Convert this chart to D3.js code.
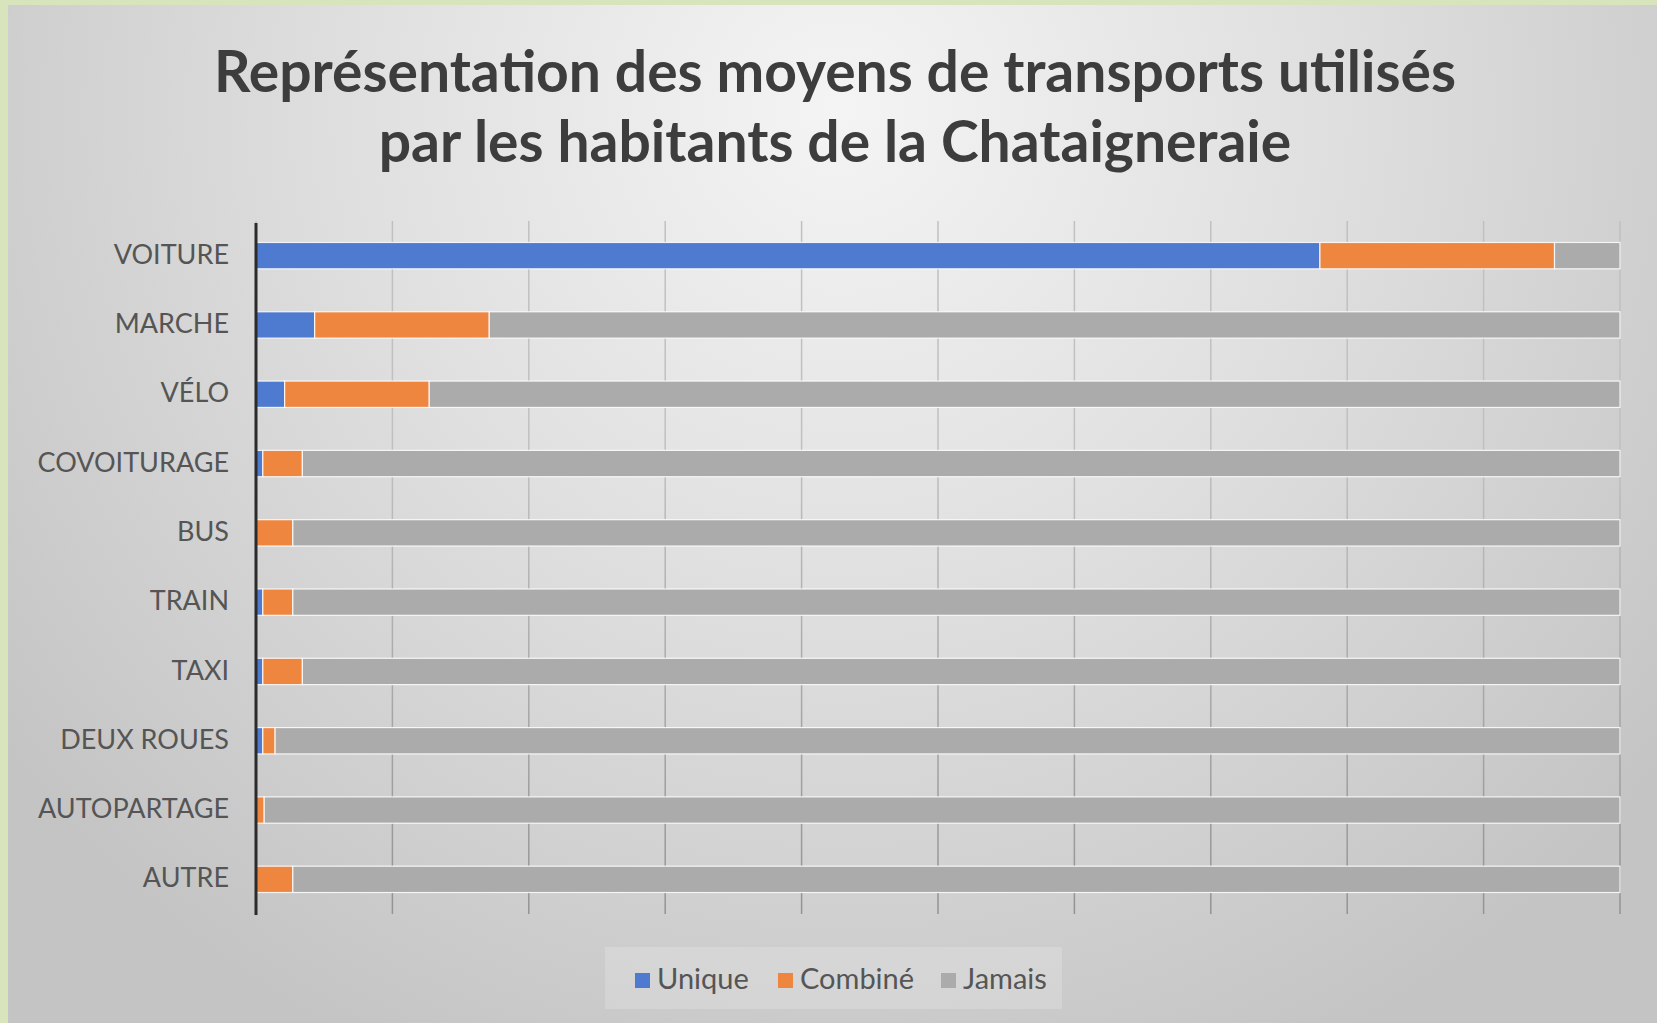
<!DOCTYPE html>
<html>
<head>
<meta charset="utf-8">
<script src="https://cdn.jsdelivr.net/npm/d3@7"></script>
<style>
  html, body { margin: 0; padding: 0; background: #d8e4bc; }
  svg { display: block; }
  .title { font-family: Lato, "Open Sans", sans-serif; font-weight: bold; fill: #3d3d3d; }
  .y-axis text { font-family: Lato, "Open Sans", sans-serif; fill: #555555; }
  .legend text { font-family: Lato, "Open Sans", sans-serif; fill: #555555; }
</style>
</head>
<body>
<svg id="chart" width="1657" height="1023"></svg>
<script>
// Chart data (percent of respondents)
var categories = ['VOITURE', 'MARCHE', 'VÉLO', 'COVOITURAGE', 'BUS', 'TRAIN', 'TAXI', 'DEUX ROUES', 'AUTOPARTAGE', 'AUTRE'];
var unique  = [78.0, 4.3, 2.1, 0.5, 0.0, 0.5, 0.5, 0.5, 0.0, 0.0];
var combine = [17.2, 12.8, 10.6, 2.9, 2.7, 2.2, 2.9, 0.9, 0.6, 2.7];
var jamais  = [4.8, 82.9, 87.3, 96.6, 97.3, 97.3, 96.6, 98.6, 99.4, 97.3];
var seriesNames = ['Unique', 'Combiné', 'Jamais'];
var xTicks = [0, 10, 20, 30, 40, 50, 60, 70, 80, 90, 100];

var colors = { 'Unique': '#4e7bd0', 'Combiné': '#ee8640', 'Jamais': '#ababab' };

var svg = d3.select('#chart');
var svgWidth = +svg.attr('width');
var svgHeight = +svg.attr('height');

// Background panel with a soft radial gradient
var defs = svg.append('defs');
var bg = defs.append('radialGradient')
    .attr('id', 'bgGrad')
    .attr('gradientUnits', 'userSpaceOnUse')
    .attr('cx', 840).attr('cy', 110).attr('r', 1050);
bg.append('stop').attr('offset', '0%').attr('stop-color', '#f4f4f4');
bg.append('stop').attr('offset', '45%').attr('stop-color', '#e0e0e0');
bg.append('stop').attr('offset', '100%').attr('stop-color', '#c4c4c4');

var gridGrad = defs.append('linearGradient')
    .attr('id', 'gridGrad')
    .attr('gradientUnits', 'userSpaceOnUse')
    .attr('x1', 0).attr('y1', 221).attr('x2', 0).attr('y2', 914);
gridGrad.append('stop').attr('offset', '0%').attr('stop-color', '#c0c0c0');
gridGrad.append('stop').attr('offset', '100%').attr('stop-color', '#7e7e7e');

svg.append('rect')
    .attr('x', 8).attr('y', 5)
    .attr('width', svgWidth - 8).attr('height', svgHeight - 5)
    .attr('fill', 'url(#bgGrad)');

// Title
var title = svg.append('text')
    .attr('class', 'title')
    .attr('text-anchor', 'middle')
    .attr('font-size', 57);
title.append('tspan').attr('x', 835).attr('y', 92)
    .text('Représentation des moyens de transports utilisés');
title.append('tspan').attr('x', 835).attr('y', 162)
    .text('par les habitants de la Chataigneraie');

// Layout
var padding = { t: 221, r: 37, b: 109, l: 256 };
var chartWidth = svgWidth - padding.l - padding.r;
var chartHeight = svgHeight - padding.t - padding.b;

var chartG = svg.append('g')
    .attr('transform', 'translate(' + [padding.l, padding.t] + ')');

var xScale = d3.scaleLinear()
    .domain([0, 100])
    .range([0, chartWidth]);

var yScale = d3.scaleBand()
    .domain(categories)
    .range([0, chartHeight])
    .paddingInner(0.62)
    .paddingOuter(0.31);

// Vertical gridlines
var grid = chartG.append('g')
    .attr('class', 'grid')
    .call(d3.axisBottom(xScale).tickValues(xTicks).tickSize(chartHeight).tickFormat(''));
grid.select('.domain').remove();
grid.selectAll('line')
    .attr('stroke', 'url(#gridGrad)')
    .attr('stroke-width', 1.5)
    .attr('transform', 'translate(0,' + (-chartHeight) + ')')
    .attr('y1', chartHeight).attr('y2', 0);
grid.selectAll('.tick').attr('transform', d => 'translate(' + xScale(d) + ',' + chartHeight + ')');

// Stacked data
var table = categories.map(function (c, i) {
    return { category: c, 'Unique': unique[i], 'Combiné': combine[i], 'Jamais': jamais[i] };
});
var stacked = d3.stack().keys(seriesNames)(table);

chartG.selectAll('.series')
    .data(stacked)
    .enter()
    .append('g')
    .attr('class', 'series')
    .attr('fill', d => colors[d.key])
    .selectAll('rect')
    .data(d => d.filter(p => p[1] - p[0] > 0))
    .enter()
    .append('rect')
    .attr('x', d => xScale(d[0]))
    .attr('y', d => yScale(d.data.category))
    .attr('width', d => xScale(d[1]) - xScale(d[0]))
    .attr('height', yScale.bandwidth())
    .attr('stroke', '#ffffff')
    .attr('stroke-opacity', 0.85)
    .attr('stroke-width', 1.2);

// Category axis
var yAxis = chartG.append('g')
    .attr('class', 'y-axis')
    .call(d3.axisLeft(yScale).tickSize(0).tickPadding(27));
yAxis.select('.domain')
    .attr('stroke', '#2b2b2b')
    .attr('stroke-width', 3)
    .attr('d', 'M0,2V' + (chartHeight + 1));
yAxis.selectAll('text')
    .attr('font-size', 27)
    .attr('dy', '0.3em');

// Legend
var legend = svg.append('g').attr('class', 'legend');
legend.append('rect')
    .attr('x', 605).attr('y', 947)
    .attr('width', 457).attr('height', 62)
    .attr('fill', '#ffffff').attr('fill-opacity', 0.18);

var legendX = [635, 778, 941];
var items = legend.selectAll('.item')
    .data(seriesNames)
    .enter()
    .append('g')
    .attr('class', 'item')
    .attr('transform', (d, i) => 'translate(' + legendX[i] + ',973)');
items.append('rect')
    .attr('width', 15).attr('height', 15)
    .attr('fill', d => colors[d]);
items.append('text')
    .attr('x', 22).attr('y', 16)
    .attr('font-size', 29)
    .text(d => d);
</script>
</body>
</html>
